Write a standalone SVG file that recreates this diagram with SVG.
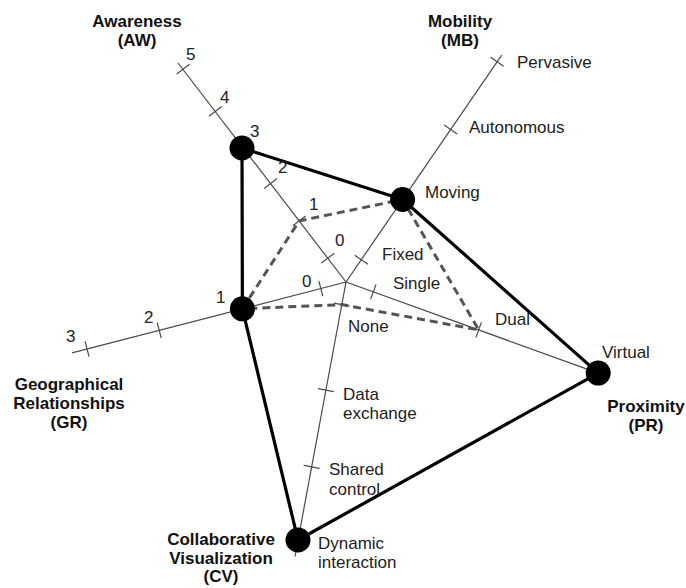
<svg xmlns="http://www.w3.org/2000/svg" width="686" height="588" viewBox="0 0 686 588">
<style>
.bg{fill:#ffffff}
.axis{stroke:#4a4a4a;stroke-width:1.2;fill:none}
.tick{stroke:#4a4a4a;stroke-width:1.2}
.solid{stroke:#000;stroke-width:3.2;fill:none;stroke-linejoin:round}
.dash{stroke:#555;stroke-width:3;fill:none;stroke-dasharray:8 5}
.dot{fill:#000}
.lbl{font-family:"Liberation Sans",Arial,Helvetica,sans-serif;font-size:17px;fill:#222}
.ttl{font-family:"Liberation Sans",Arial,Helvetica,sans-serif;font-size:17px;font-weight:bold;fill:#111;text-anchor:middle}
</style>
<rect class="bg" x="0" y="0" width="686" height="588"/>

<g id="axes">
  <g id="axis-AW">
    <line class="axis" x1="346" y1="282" x2="178" y2="63"/>
    <line class="tick" x1="321.4" y1="263.1" x2="334.2" y2="253.3"/>
    <line class="tick" x1="292.8" y1="225.8" x2="305.6" y2="216"/>
    <line class="tick" x1="264.2" y1="188.4" x2="277" y2="178.6"/>
    <line class="tick" x1="208.9" y1="116.2" x2="221.7" y2="106.4"/>
    <line class="tick" x1="176.7" y1="74.1" x2="189.5" y2="64.3"/>
  </g>
  <g id="axis-MB">
    <line class="axis" x1="346" y1="282" x2="501.7" y2="55.1"/>
    <line class="tick" x1="354.7" y1="255.2" x2="367.9" y2="264.2"/>
    <line class="tick" x1="444.1" y1="124.9" x2="457.3" y2="133.9"/>
    <line class="tick" x1="490.5" y1="57.2" x2="503.7" y2="66.2"/>
  </g>
  <g id="axis-GR">
    <line class="axis" x1="346" y1="282" x2="72" y2="352.8"/>
    <line class="tick" x1="318.8" y1="280.8" x2="322.8" y2="296.2"/>
    <line class="tick" x1="157.2" y1="322.6" x2="161.2" y2="338"/>
    <line class="tick" x1="85" y1="341.2" x2="89" y2="356.6"/>
  </g>
  <g id="axis-PR">
    <line class="axis" x1="346" y1="282" x2="598.2" y2="373.1"/>
    <line class="tick" x1="376" y1="284.4" x2="370.6" y2="299.4"/>
    <line class="tick" x1="481.4" y1="322.4" x2="476" y2="337.4"/>
  </g>
  <g id="axis-CV">
    <line class="axis" x1="346" y1="282" x2="295" y2="556.5"/>
    <line class="tick" x1="333.9" y1="303.1" x2="349.7" y2="306.1"/>
    <line class="tick" x1="318" y1="388.6" x2="333.8" y2="391.6"/>
    <line class="tick" x1="303.7" y1="465.3" x2="319.5" y2="468.3"/>
  </g>
</g>

<g id="connectors">
  <polygon id="profile-dashed" class="dash" points="242.4,308.8 299.2,220.9 402.6,199.5 478.7,329.9 341.8,304.6"/>
  <polygon id="profile-solid" class="solid" points="242,148 402.6,199.5 598.2,373.1 298,540 242.4,308.8"/>
</g>

<g id="node-AW3"><circle class="dot" cx="242" cy="148" r="12.5"/></g>
<g id="node-MB-moving"><circle class="dot" cx="402.6" cy="199.5" r="12.5"/></g>
<g id="node-PR-virtual"><circle class="dot" cx="598.2" cy="373.1" r="12.5"/></g>
<g id="node-CV-dynamic"><circle class="dot" cx="298" cy="540" r="12.5"/></g>
<g id="node-GR1"><circle class="dot" cx="242.4" cy="308.8" r="12.5"/></g>

<g id="labels">
  <text class="ttl" x="137" y="27">Awareness</text>
  <text class="ttl" x="137" y="46">(AW)</text>
  <text class="ttl" x="460" y="27">Mobility</text>
  <text class="ttl" x="460" y="46">(MB)</text>
  <text class="ttl" x="69" y="390">Geographical</text>
  <text class="ttl" x="69" y="409">Relationships</text>
  <text class="ttl" x="69" y="428">(GR)</text>
  <text class="ttl" x="646" y="412">Proximity</text>
  <text class="ttl" x="646" y="431">(PR)</text>
  <text class="ttl" x="221" y="545">Collaborative</text>
  <text class="ttl" x="221" y="564">Visualization</text>
  <text class="ttl" x="221" y="582">(CV)</text>

  <text class="lbl" x="186" y="60">5</text>
  <text class="lbl" x="220" y="103">4</text>
  <text class="lbl" x="250" y="137">3</text>
  <text class="lbl" x="278" y="173">2</text>
  <text class="lbl" x="309" y="210">1</text>
  <text class="lbl" x="335" y="246">0</text>
  <text class="lbl" x="302" y="287">0</text>
  <text class="lbl" x="216" y="303">1</text>
  <text class="lbl" x="144" y="323">2</text>
  <text class="lbl" x="66" y="342">3</text>

  <text class="lbl" x="382" y="260">Fixed</text>
  <text class="lbl" x="425" y="198">Moving</text>
  <text class="lbl" x="469" y="133">Autonomous</text>
  <text class="lbl" x="517" y="68">Pervasive</text>

  <text class="lbl" x="393" y="289">Single</text>
  <text class="lbl" x="495" y="325">Dual</text>
  <text class="lbl" x="602" y="358">Virtual</text>

  <text class="lbl" x="348" y="332">None</text>
  <text class="lbl" x="343" y="400">Data</text>
  <text class="lbl" x="343" y="419">exchange</text>
  <text class="lbl" x="329" y="475">Shared</text>
  <text class="lbl" x="329" y="495">control</text>
  <text class="lbl" x="318" y="549">Dynamic</text>
  <text class="lbl" x="318" y="568">interaction</text>
</g>
</svg>
